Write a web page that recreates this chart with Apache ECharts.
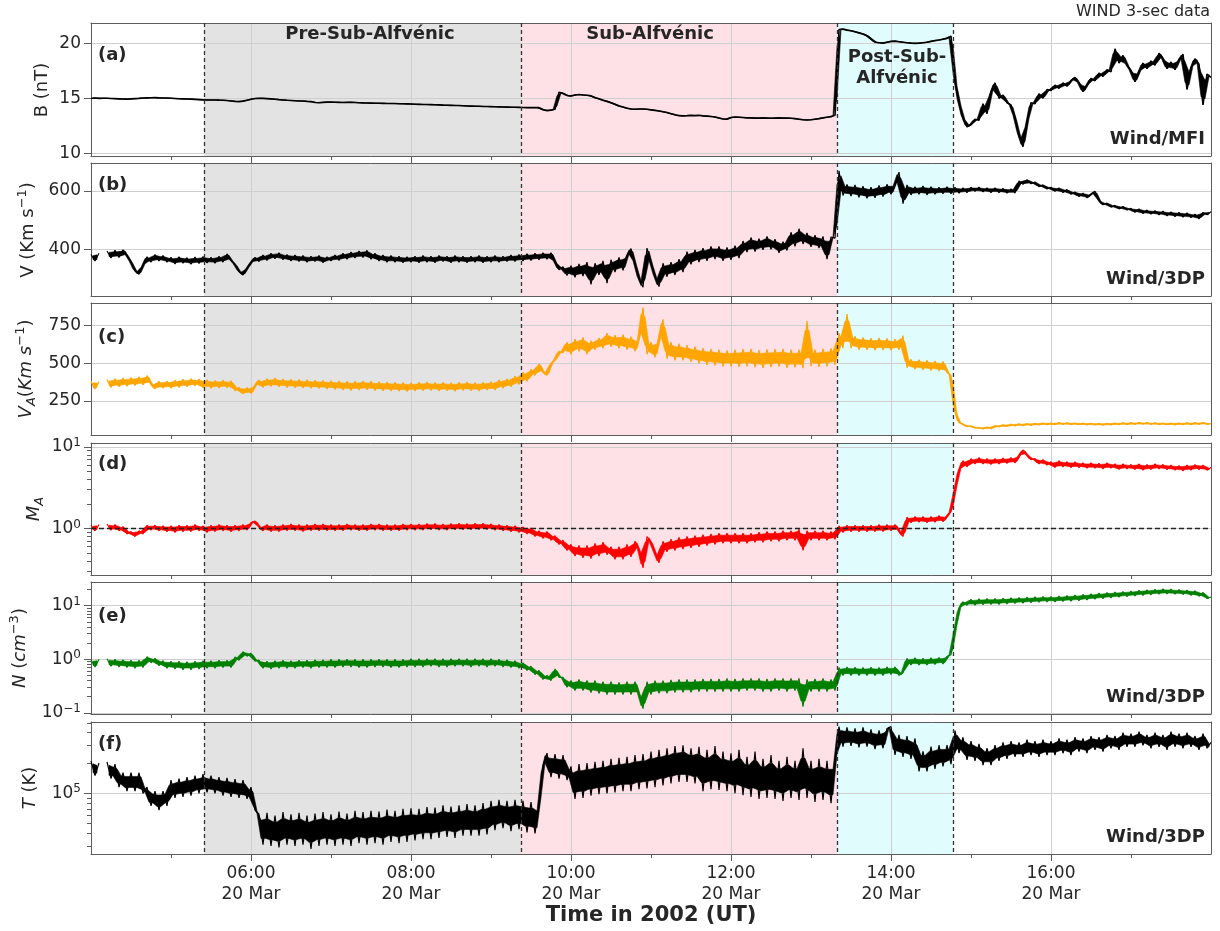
<!DOCTYPE html>
<html><head><meta charset="utf-8">
<script src="https://cdn.jsdelivr.net/npm/echarts@6/dist/echarts.min.js"></script>
<style>html,body{margin:0;padding:0;background:#fff}#c{width:1220px;height:931px}</style>
</head><body><div id="c"></div><script>
// ---- time sampling (hours of 20 Mar 2002) ----
const T0 = 4, STEP = 0.05;
// ---- data (one value every 3 minutes, 04:00 .. 18:00) ----
const B = [
15.00,15.02,14.99,15.01,15.00,14.98,14.97,14.95,14.93,14.92,14.95,14.97,14.99,15.02,15.04,15.05,15.06,15.04,15.03,15.02,
15.00,14.98,14.96,14.95,14.93,14.92,14.90,14.88,14.86,14.85,14.84,14.85,14.83,14.82,14.80,14.76,14.72,14.70,14.74,14.82,
14.92,14.98,15.00,14.99,14.97,14.95,14.92,14.88,14.85,14.82,14.80,14.78,14.76,14.75,14.72,14.70,14.62,14.60,14.63,14.65,
14.65,14.64,14.63,14.62,14.63,14.64,14.62,14.60,14.58,14.57,14.56,14.55,14.55,14.54,14.53,14.52,14.52,14.51,14.50,14.49,
14.48,14.46,14.45,14.44,14.43,14.42,14.41,14.40,14.38,14.37,14.36,14.35,14.34,14.32,14.30,14.29,14.28,14.27,14.26,14.25,
14.24,14.23,14.22,14.21,14.20,14.19,14.18,14.17,14.16,14.15,14.15,14.15,14.15,13.95,13.88,13.92,14.00,15.55,15.45,15.25,
15.20,15.30,15.35,15.30,15.28,15.22,15.05,14.95,14.82,14.72,14.60,14.45,14.30,14.20,14.10,14.02,14.00,14.02,14.03,14.00,
13.95,13.90,13.85,13.78,13.70,13.60,13.50,13.42,13.40,13.42,13.45,13.42,13.45,13.40,13.38,13.35,13.30,13.20,13.12,13.10,
13.25,13.30,13.28,13.25,13.22,13.22,13.20,13.20,13.22,13.20,13.18,13.20,13.22,13.20,13.20,13.18,13.15,13.10,13.05,13.02,
13.05,13.10,13.15,13.22,13.28,13.33,13.45,21.25,21.30,21.20,21.15,21.05,20.95,20.85,20.70,20.40,20.10,20.05,20.02,20.10,
20.18,20.20,20.15,20.10,20.05,20.02,20.00,20.02,20.05,20.10,20.18,20.25,20.30,20.38,20.45,20.65,16.5,14.6,13.2,12.4,
12.6,13.1,13.0,14.5,13.6,15.6,16.4,15.0,15.3,14.6,14.4,13.2,11.6,10.6,12.8,14.6,14.5,15.4,15.0,15.8,
15.7,16.2,15.9,16.4,16.1,16.6,16.9,16.4,15.6,16.2,16.8,16.6,17.3,17.0,17.6,17.4,19.5,18.2,18.9,18.0,
17.5,16.5,17.4,18.2,17.7,18.4,18.0,19.1,18.6,17.7,18.3,17.6,18.5,19.0,15.8,17.8,18.6,18.1,14.4,17.2,
16.9];
const V = [
382,360,386,null,394,370,396,372,398,378,356,326,314,344,374,356,382,360,378,356,
372,350,374,352,371,349,373,351,375,353,372,352,376,356,384,362,348,324,312,334,
354,372,358,380,362,386,368,388,364,382,360,380,358,378,356,376,358,378,354,374,
360,380,362,386,366,390,370,394,372,396,366,386,360,380,356,378,356,376,354,374,
356,376,354,378,356,376,354,378,358,376,354,378,356,376,354,376,356,378,354,376,
356,378,356,376,358,380,358,382,360,384,362,386,364,388,366,388,356,330,340,310,
344,304,350,308,356,280,352,312,360,284,364,322,372,328,378,402,350,298,270,404,
352,306,272,352,306,356,312,366,322,392,348,398,356,404,360,410,366,410,360,406,
364,412,370,428,390,440,392,436,398,444,400,434,388,426,396,458,410,470,418,456,
408,448,404,444,366,442,438,668,584,622,582,620,578,616,574,612,576,618,580,622,
588,622,664,556,620,586,614,588,616,586,614,588,612,590,614,590,612,592,610,594,
612,598,612,596,610,594,610,594,608,592,606,592,634,622,638,624,630,614,620,606,
612,598,610,594,604,588,596,580,592,576,588,598,566,552,558,544,550,538,546,534,
540,526,538,522,534,520,532,518,530,514,528,512,526,510,524,508,520,504,526,518,
528];
const VA = [
380,330,378,null,392,340,398,344,402,348,406,352,410,356,418,364,330,380,334,382,
334,388,340,394,344,398,350,396,336,390,334,386,336,388,338,384,318,340,296,338,
300,352,388,340,398,346,402,344,396,340,394,338,392,336,390,334,388,332,386,330,
384,326,382,322,380,320,380,322,382,324,380,320,378,318,376,316,374,314,372,312,
370,316,374,318,376,320,372,316,374,318,370,314,374,320,376,318,372,316,374,322,
378,322,390,334,398,344,414,360,440,380,460,420,496,440,420,500,520,580,570,640,
560,660,580,672,560,650,590,668,600,700,610,686,600,690,590,676,580,660,870,560,
640,540,650,792,530,640,520,630,520,620,510,610,500,600,490,596,486,590,480,586,
480,590,476,594,480,596,474,588,470,592,474,594,478,596,470,590,472,590,468,780,
480,590,476,596,480,600,490,700,600,826,600,680,590,672,590,666,586,668,588,664,
586,660,590,684,470,526,460,524,456,520,452,516,448,512,440,420,180,105,96,80,
84,70,74,64,76,66,86,78,92,80,96,84,98,86,100,88,102,90,104,92,
104,92,106,94,105,93,104,92,103,91,102,90,101,89,102,90,104,92,105,93,
106,94,107,95,106,94,105,93,104,92,103,91,104,92,105,93,106,94,107,95,
100];
const MA = [
1.10,0.94,1.12,null,1.14,0.96,1.12,0.94,1.06,0.86,0.92,0.80,0.94,0.86,1.10,0.96,1.10,0.94,1.08,0.92,
1.08,0.90,1.10,0.92,1.10,0.92,1.12,0.94,1.08,0.90,1.10,0.92,1.12,0.94,1.10,0.92,1.10,0.94,1.12,0.96,
1.18,1.24,1.06,0.94,1.12,0.92,1.10,0.92,1.12,0.94,1.14,0.94,1.12,0.92,1.12,0.94,1.14,0.94,1.14,0.94,
1.12,0.94,1.12,0.94,1.14,0.96,1.12,0.94,1.12,0.94,1.14,0.96,1.14,0.94,1.12,0.94,1.12,0.94,1.14,0.96,
1.14,0.96,1.14,0.96,1.15,0.97,1.15,0.96,1.14,0.96,1.15,0.97,1.16,0.97,1.15,0.97,1.16,0.98,1.16,0.98,
1.14,0.96,1.12,0.94,1.10,0.92,1.08,0.90,1.05,0.86,1.02,0.80,0.94,0.76,0.92,0.72,0.82,0.64,0.72,0.54,
0.64,0.46,0.62,0.44,0.62,0.43,0.66,0.46,0.68,0.48,0.60,0.42,0.60,0.42,0.64,0.45,0.70,0.56,0.33,0.80,
0.68,0.50,0.38,0.70,0.52,0.74,0.54,0.78,0.56,0.80,0.58,0.82,0.60,0.84,0.62,0.86,0.64,0.88,0.66,0.88,
0.66,0.88,0.66,0.88,0.66,0.88,0.68,0.90,0.68,0.92,0.70,0.92,0.70,0.94,0.72,0.94,0.72,0.98,0.54,0.94,
0.72,0.94,0.72,0.94,0.72,0.92,0.74,1.08,0.90,1.10,0.92,1.10,0.92,1.10,0.92,1.10,0.92,1.12,0.92,1.12,
0.94,1.12,0.94,0.80,1.38,1.18,1.40,1.20,1.40,1.18,1.40,1.20,1.44,1.22,1.42,1.62,3.0,5.2,6.8,5.7,
7.2,6.2,7.4,6.2,7.2,6.1,7.2,6.2,7.3,6.3,7.4,6.4,7.8,9.2,8.0,7.0,7.2,6.2,7.0,6.0,
6.6,5.6,6.8,5.7,6.6,5.6,6.6,5.6,6.4,5.5,6.4,5.5,6.3,5.4,6.4,5.5,6.2,5.3,6.2,5.4,
6.1,5.3,6.2,5.2,6.1,5.3,6.2,5.4,6.1,5.3,6.0,5.2,5.9,5.1,6.0,5.2,6.1,5.3,6.0,5.2,
5.6];
const N = [
0.98,0.72,1.00,null,1.02,0.74,1.00,0.72,0.98,0.70,0.96,0.68,0.96,0.70,1.12,0.86,1.04,0.76,0.94,0.68,
0.92,0.66,0.92,0.64,0.90,0.64,0.92,0.66,0.94,0.68,0.94,0.68,0.96,0.70,0.96,0.70,1.10,0.96,1.38,1.14,
1.30,0.92,0.96,0.68,0.92,0.66,0.94,0.68,0.96,0.68,0.94,0.68,0.96,0.70,0.96,0.68,0.98,0.70,0.98,0.70,
1.00,0.70,1.00,0.72,1.00,0.72,1.00,0.70,1.00,0.70,1.00,0.72,1.00,0.72,1.00,0.70,1.00,0.70,1.00,0.72,
1.02,0.72,1.02,0.72,1.02,0.74,1.02,0.72,1.02,0.72,1.02,0.74,1.02,0.74,1.02,0.72,1.02,0.74,1.02,0.72,
1.02,0.74,1.00,0.72,0.98,0.70,0.94,0.68,0.86,0.62,0.74,0.52,0.62,0.42,0.50,0.40,0.66,0.46,0.46,0.30,
0.40,0.26,0.42,0.26,0.40,0.24,0.40,0.23,0.38,0.22,0.38,0.22,0.37,0.22,0.38,0.22,0.38,0.22,0.12,0.38,
0.22,0.40,0.23,0.40,0.23,0.41,0.24,0.42,0.24,0.42,0.24,0.42,0.25,0.43,0.25,0.43,0.25,0.43,0.25,0.44,
0.25,0.43,0.25,0.44,0.26,0.44,0.26,0.44,0.25,0.43,0.25,0.44,0.26,0.44,0.25,0.44,0.26,0.44,0.13,0.42,
0.25,0.43,0.25,0.44,0.25,0.42,0.26,0.70,0.50,0.72,0.50,0.71,0.50,0.70,0.50,0.71,0.50,0.70,0.50,0.72,
0.52,0.72,0.50,0.56,1.04,0.78,1.06,0.78,1.04,0.78,1.06,0.80,1.08,0.82,1.12,1.22,3.6,9.0,11.8,10.2,
13.2,10.2,13.4,10.4,13.6,10.6,13.6,10.6,13.8,10.8,14.0,11.0,14.2,11.2,14.4,11.4,14.6,11.6,14.8,11.8,
14.8,11.8,15.1,12.0,15.4,12.2,15.8,12.4,16.2,12.8,16.6,13.2,17.2,13.6,17.6,14.0,18.0,14.4,18.4,14.8,
18.8,15.2,19.4,15.6,19.8,16.0,20.2,16.4,20.6,16.6,20.4,16.4,20.0,16.2,19.6,15.6,19.0,15.0,17.6,13.6,
14.5];
const TEMP = [
2.1e5,1.5e5,2.0e5,null,2.05e5,1.4e5,1.95e5,1.15e5,1.6e5,1.05e5,1.6e5,1.05e5,1.6e5,1.0e5,1.15e5,0.75e5,1.05e5,0.68e5,1.05e5,0.75e5,
1.35e5,0.9e5,1.4e5,0.92e5,1.45e5,0.95e5,1.5e5,1.0e5,1.55e5,1.02e5,1.5e5,1.0e5,1.45e5,0.95e5,1.42e5,0.92e5,1.38e5,0.9e5,1.35e5,0.88e5,
1.15e5,0.68e5,0.62e5,0.31e5,0.64e5,0.3e5,0.6e5,0.29e5,0.65e5,0.31e5,0.62e5,0.3e5,0.64e5,0.31e5,0.6e5,0.28e5,0.63e5,0.3e5,0.65e5,0.31e5,
0.62e5,0.3e5,0.66e5,0.31e5,0.63e5,0.3e5,0.67e5,0.32e5,0.65e5,0.31e5,0.67e5,0.32e5,0.66e5,0.31e5,0.69e5,0.33e5,0.67e5,0.32e5,0.7e5,0.33e5,
0.71e5,0.34e5,0.7e5,0.35e5,0.73e5,0.35e5,0.72e5,0.36e5,0.76e5,0.37e5,0.74e5,0.36e5,0.76e5,0.38e5,0.78e5,0.38e5,0.76e5,0.38e5,0.8e5,0.39e5,
0.84e5,0.43e5,0.86e5,0.45e5,0.84e5,0.42e5,0.86e5,0.44e5,0.84e5,0.41e5,0.82e5,0.4e5,0.76e5,1.9e5,2.5e5,1.45e5,2.45e5,1.4e5,2.4e5,1.35e5,
1.85e5,0.88e5,1.95e5,0.9e5,2.0e5,0.95e5,2.05e5,0.98e5,2.1e5,1.0e5,2.2e5,1.02e5,2.25e5,1.05e5,2.3e5,1.05e5,2.4e5,1.1e5,2.45e5,1.12e5,
2.6e5,1.15e5,2.7e5,1.2e5,2.8e5,1.25e5,2.95e5,1.3e5,3.0e5,1.3e5,2.8e5,1.25e5,2.9e5,1.05e5,2.7e5,1.1e5,2.95e5,1.08e5,2.6e5,1.05e5,
2.5e5,1.0e5,2.7e5,0.96e5,2.3e5,0.92e5,2.6e5,0.88e5,2.2e5,0.9e5,2.4e5,0.88e5,2.1e5,0.84e5,2.3e5,0.9e5,2.1e5,0.86e5,2.8e5,0.9e5,
2.1e5,0.82e5,2.2e5,0.86e5,2.1e5,0.8e5,2.1e5,4.6e5,2.9e5,4.5e5,2.95e5,4.4e5,2.85e5,4.5e5,2.9e5,4.3e5,2.75e5,4.2e5,2.8e5,4.4e5,
4.6e5,2.4e5,3.8e5,2.3e5,3.7e5,2.2e5,3.5e5,1.65e5,2.6e5,1.65e5,2.9e5,1.75e5,3.0e5,1.85e5,3.0e5,1.95e5,4.2e5,2.5e5,3.6e5,2.15e5,
3.3e5,2.1e5,3.1e5,1.9e5,2.8e5,1.9e5,3.0e5,2.1e5,3.2e5,2.2e5,3.3e5,2.3e5,3.2e5,2.3e5,3.4e5,2.4e5,3.3e5,2.3e5,3.4e5,2.4e5,
3.3e5,2.4e5,3.5e5,2.5e5,3.4e5,2.4e5,3.6e5,2.6e5,3.5e5,2.5e5,3.7e5,2.7e5,3.6e5,2.6e5,3.8e5,2.8e5,3.7e5,2.7e5,4.0e5,2.9e5,
3.9e5,2.9e5,4.1e5,3.0e5,3.8e5,2.8e5,4.0e5,2.9e5,3.8e5,2.7e5,4.1e5,2.9e5,3.9e5,2.8e5,4.0e5,2.9e5,3.7e5,2.7e5,3.9e5,2.8e5,
3.2e5];
// ---- tick values ----
const xMajorTicks = [6, 8, 10, 12, 14, 16];
const xMinorTicks = [5, 7, 9, 11, 13, 15, 17];
const bTicks = [10, 15, 20];
const vTicks = [400, 600];
const vaTicks = [250, 500, 750];
const maTicks = [1, 10];
const maMinor = [0.3,0.4,0.5,0.6,0.7,0.8,0.9,2,3,4,5,6,7,8,9];
const nTicks = [0.1, 1, 10];
const nMinor = [0.2,0.3,0.4,0.5,0.6,0.7,0.8,0.9,2,3,4,5,6,7,8,9,20];
const tTicks = [1e5];
const tMinor = [3e4,4e4,5e4,6e4,7e4,8e4,9e4,2e5,3e5,4e5,5e5];
// ---- intervals (hours) ----
const regionStart = [5.4125, 9.375, 13.325];
const regionEnd = [9.375, 13.325, 14.775];
const boundaries = [5.4125, 9.375, 13.325, 14.775];

const FONT = 'DejaVu Sans', SPINE = '#5c5c5c', GRIDC = '#cfcfcf', TXT = '#262626';
const regionColors = ['#e3e3e3', '#fde1e6', '#e0fcfc'];

const panels = [
  {top: 23, height: 133, type: 'value', min: 9.75, max: 21.85, major: bTicks, minor: null, values: B, color: '#000000', lw: 1.6},
  {top: 163, height: 133, type: 'value', min: 240, max: 695, major: vTicks, minor: null, values: V, color: '#000000', lw: 1.2},
  {top: 303, height: 132, type: 'value', min: 24, max: 900, major: vaTicks, minor: null, values: VA, color: '#ffa500', lw: 1.2},
  {top: 443, height: 132, type: 'log', min: 0.27, max: 11.2, major: maTicks, minor: maMinor, values: MA, color: '#ff0000', lw: 1.2, unity: true},
  {top: 582, height: 132, type: 'log', min: 0.095, max: 27.7, major: nTicks, minor: nMinor, values: N, color: '#008000', lw: 1.2},
  {top: 722, height: 132, type: 'log', min: 2.5e4, max: 5.1e5, major: tTicks, minor: tMinor, values: TEMP, color: '#000000', lw: 1.2}
];

function pairs(vals) { return vals.map((v, i) => [T0 + i * STEP, v]); }
// dense part of the 3-s samples between two consecutive read values
function envelopeRuns(vals, isLog) {
  const f = isLog ? Math.log10 : (x => x);
  const inv = isLog ? (x => Math.pow(10, x)) : (x => x);
  const runs = []; let cur = [];
  for (let i = 0; i < vals.length - 1; i++) {
    const a = vals[i], b = vals[i + 1];
    if (a == null || b == null) { if (cur.length) runs.push(cur); cur = []; continue; }
    const lo = Math.min(f(a), f(b)), hi = Math.max(f(a), f(b));
    const d = (hi - lo) * 0.2;
    cur.push([T0 + (i + 0.5) * STEP, inv(lo + d), inv(hi - d)]);
  }
  if (cur.length) runs.push(cur);
  return runs;
}
function logLabel(v) {
  const e = Math.round(Math.log10(v));
  return '{b|10}{s|' + (e < 0 ? '\u2212' + (-e) : e) + '}';
}
function timeLabel(v) { return (v < 10 ? '0' : '') + v + ':00\n20 Mar'; }

const grids = [], xAxes = [], yAxes = [], series = [];
panels.forEach((p, g) => {
  grids.push({left: 91, width: 1120, top: p.top, height: p.height});
  const xi = xAxes.length;
  xAxes.push({
    gridIndex: g, type: 'value', min: 4, max: 18, position: 'bottom', z: 1,
    axisLine: {show: true, onZero: false, lineStyle: {color: SPINE, width: 1}},
    axisTick: {show: true, customValues: xMajorTicks, length: 7, lineStyle: {color: SPINE, width: 1}},
    axisLabel: {show: g === panels.length - 1, customValues: xMajorTicks, formatter: timeLabel,
      margin: 9, fontSize: 17, lineHeight: 21, color: TXT, fontFamily: FONT},
    splitLine: {show: true, lineStyle: {color: GRIDC, width: 1}}
  });
  xAxes.push({
    gridIndex: g, type: 'value', min: 4, max: 18, position: 'bottom', z: 1,
    axisLine: {show: false, onZero: false},
    axisTick: {show: true, customValues: xMinorTicks, length: 4, lineStyle: {color: SPINE, width: 1}},
    axisLabel: {show: false}, splitLine: {show: false}
  });
  xAxes.push({
    gridIndex: g, type: 'value', min: 0, max: 1, position: 'top', z: 1,
    axisLine: {show: true, onZero: false, lineStyle: {color: SPINE, width: 1}},
    axisTick: {show: false}, axisLabel: {show: false}, splitLine: {show: false}
  });
  const yi = yAxes.length;
  yAxes.push({
    gridIndex: g, type: p.type, logBase: 10, min: p.min, max: p.max, position: 'left', z: 1,
    axisLine: {show: true, onZero: false, lineStyle: {color: SPINE, width: 1}},
    axisTick: {show: true, customValues: p.major, length: 7, lineStyle: {color: SPINE, width: 1}},
    axisLabel: {show: true, customValues: p.major, margin: 10, fontSize: 17, color: TXT, fontFamily: FONT,
      formatter: p.type === 'log' ? logLabel : (v => String(v)),
      rich: {
        b: {fontSize: 17, lineHeight: 20, color: TXT, fontFamily: FONT},
        s: {fontSize: 12, lineHeight: 12, verticalAlign: 'top', color: TXT, fontFamily: FONT}
      }},
    splitLine: {show: true, lineStyle: {color: GRIDC, width: 1}}
  });
  if (p.minor) {
    yAxes.push({
      gridIndex: g, type: p.type, logBase: 10, min: p.min, max: p.max, position: 'left', z: 1,
      axisLine: {show: false, onZero: false},
      axisTick: {show: true, customValues: p.minor, length: 4, lineStyle: {color: SPINE, width: 1}},
      axisLabel: {show: false}, splitLine: {show: false}
    });
  }
  yAxes.push({
    gridIndex: g, type: 'value', min: 0, max: 1, position: 'right', z: 1,
    axisLine: {show: true, onZero: false, lineStyle: {color: SPINE, width: 1}},
    axisTick: {show: false}, axisLabel: {show: false}, splitLine: {show: false}
  });
  const yRef = p.type === 'log' ? 1 : p.min;
  // shaded intervals
  series.push({
    type: 'custom', xAxisIndex: xi, yAxisIndex: yi, z: 0, silent: true, animation: false,
    data: regionStart.map((s, k) => [s, yRef, k, regionEnd[k]]),
    renderItem: (params, api) => {
      const cs = params.coordSys;
      const x0 = api.coord([api.value(0), yRef])[0];
      const x1 = api.coord([api.value(3), yRef])[0];
      return {type: 'rect', shape: {x: x0, y: cs.y, width: x1 - x0, height: cs.height},
        style: {fill: regionColors[api.value(2)]}};
    }
  });
  // dense band of the samples
  const runs = envelopeRuns(p.values, p.type === 'log');
  series.push({
    type: 'custom', xAxisIndex: xi, yAxisIndex: yi, z: 2, silent: true, animation: false,
    data: runs.map((r, k) => [r[0][0], yRef, k]),
    renderItem: (params, api) => {
      const run = runs[api.value(2)];
      const pts = [];
      run.forEach(q => pts.push(api.coord([q[0], q[2]])));
      for (let j = run.length - 1; j >= 0; j--) pts.push(api.coord([run[j][0], run[j][1]]));
      return {type: 'polygon', shape: {points: pts},
        style: {fill: p.color, stroke: p.color, lineWidth: 0.6}};
    }
  });
  // data line
  const s = {
    type: 'line', xAxisIndex: xi, yAxisIndex: yi, z: 2, data: pairs(p.values),
    showSymbol: false, symbol: 'none', connectNulls: false, animation: false, silent: true,
    lineStyle: {color: p.color, width: p.lw}, itemStyle: {color: p.color}
  };
  if (p.unity) {
    s.markLine = {silent: true, symbol: ['none', 'none'], animation: false, label: {show: false},
      lineStyle: {color: '#222', width: 1.3, type: [5, 3]}, data: [{yAxis: 1}]};
  }
  series.push(s);
  // dashed interval boundaries
  series.push({
    type: 'custom', xAxisIndex: xi, yAxisIndex: yi, z: 3, silent: true, animation: false,
    data: boundaries.map(b => [b, yRef]),
    renderItem: (params, api) => {
      const cs = params.coordSys;
      const x = Math.round(api.coord([api.value(0), yRef])[0]) + 0.5;
      return {type: 'line', shape: {x1: x, y1: cs.y, x2: x, y2: cs.y + cs.height},
        style: {stroke: '#333', lineWidth: 1.3, lineDash: [4, 3]}};
    }
  });
});

function txt(x, y, text, opts) {
  return {type: 'text', x: x, y: y, z: 10, silent: true,
    style: Object.assign({text: text, fill: TXT, fontFamily: FONT, fontSize: 18,
      align: 'center', verticalAlign: 'middle'}, opts || {})};
}
const bold = {fontWeight: 'bold'};
const nameRich = {
  n: {fontSize: 18, fontFamily: FONT, fill: TXT, lineHeight: 24},
  i: {fontSize: 18, fontFamily: FONT, fontStyle: 'italic', fill: TXT, lineHeight: 24},
  sup: {fontSize: 13, fontFamily: FONT, fill: TXT, lineHeight: 13, verticalAlign: 'top'},
  sub: {fontSize: 13, fontFamily: FONT, fontStyle: 'italic', fill: TXT, lineHeight: 13, verticalAlign: 'bottom'}
};
function yName(x, y, text) {
  const el = txt(x, y, text, {rich: nameRich});
  el.rotation = Math.PI / 2;
  return el;
}
const graphics = [
  txt(1210, 12, 'WIND 3-sec data', {align: 'right', fontSize: 16}),
  txt(651, 916, 'Time in 2002 (UT)', {fontSize: 21, fontWeight: 'bold'}),
  txt(370, 34, 'Pre-Sub-Alfvénic', bold),
  txt(650, 34, 'Sub-Alfvénic', bold),
  txt(897, 57, 'Post-Sub-', bold),
  txt(897, 78, 'Alfvénic', bold),
  txt(98, 55, '(a)', {fontWeight: 'bold', align: 'left'}),
  txt(98, 185, '(b)', {fontWeight: 'bold', align: 'left'}),
  txt(98, 337, '(c)', {fontWeight: 'bold', align: 'left'}),
  txt(98, 464, '(d)', {fontWeight: 'bold', align: 'left'}),
  txt(98, 616, '(e)', {fontWeight: 'bold', align: 'left'}),
  txt(98, 744, '(f)', {fontWeight: 'bold', align: 'left'}),
  txt(1205, 139, 'Wind/MFI', {fontWeight: 'bold', align: 'right'}),
  txt(1205, 279, 'Wind/3DP', {fontWeight: 'bold', align: 'right'}),
  txt(1205, 697, 'Wind/3DP', {fontWeight: 'bold', align: 'right'}),
  txt(1205, 837, 'Wind/3DP', {fontWeight: 'bold', align: 'right'}),
  yName(42, 90, '{n|B (nT)}'),
  yName(28, 230, '{n|V (Km s}{sup|\u22121}{n|)}'),
  yName(26, 369, '{i|V}{sub|A}{n|(}{i|Km s}{sup|\u22121}{n|)}'),
  yName(34, 509, '{i|M}{sub|A}'),
  yName(20, 648, '{i|N}{n| (}{i|cm}{sup|\u22123}{n|)}'),
  yName(30, 788, '{i|T}{n| (K)}')
];

const chart = echarts.init(document.getElementById('c'), null, {renderer: 'canvas'});
chart.setOption({
  animation: false,
  backgroundColor: '#ffffff',
  textStyle: {fontFamily: FONT},
  grid: grids, xAxis: xAxes, yAxis: yAxes, series: series,
  graphic: {elements: graphics}
});
</script></body></html>
